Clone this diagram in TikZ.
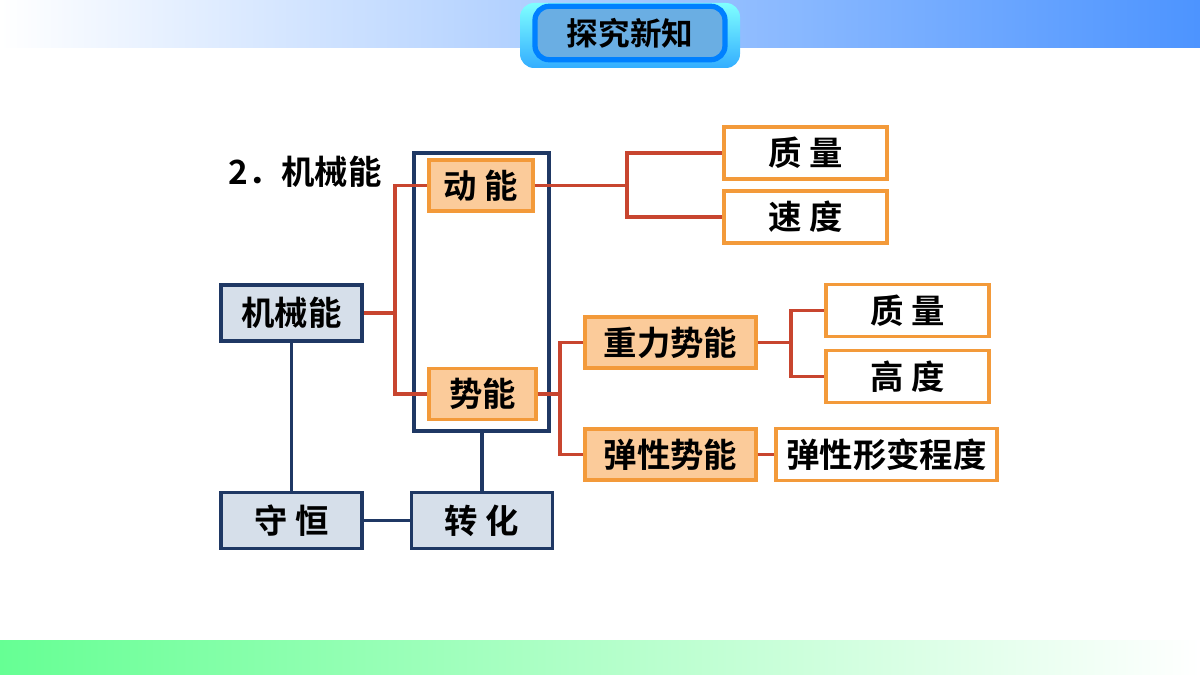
\documentclass[tikz,border=0pt]{standalone}
\usepackage{fontspec}
\setmainfont{Noto Sans CJK SC}[BoldFont={* Bold}]
\usetikzlibrary{positioning}
\definecolor{navy}{HTML}{1F3864}
\definecolor{boxblue}{HTML}{D6DFEA}
\definecolor{org}{HTML}{F39A3A}
\definecolor{orgfill}{HTML}{FBCB9A}
\definecolor{redline}{HTML}{C8452F}
\tikzset{
  blue box/.style={rectangle,draw=navy,fill=boxblue,line width=0.9pt,minimum width=14.1mm,minimum height=5.6mm,font=\fontsize{9.5}{11}\selectfont\bfseries},
  org box/.style={rectangle,draw=org,fill=orgfill,line width=0.9pt,minimum height=5.1mm,font=\fontsize{9.5}{11}\selectfont\bfseries,inner sep=1pt},
  white box/.style={rectangle,draw=org,fill=white,line width=0.9pt,minimum width=16.3mm,minimum height=5.2mm,font=\fontsize{9.5}{11}\selectfont\bfseries,inner sep=1pt},
  red link/.style={draw=redline,line width=0.9pt},
  navy link/.style={draw=navy,line width=0.9pt}
}
\begin{document}
\begin{tikzpicture}[x=0.1mm,y=-0.1mm]
\useasboundingbox (0,0) rectangle (1200,675);
% bands
\shade[left color=white,right color=blue!60!cyan!70] (0,0) rectangle (1200,48);
\shade[left color=green!70!cyan!60,right color=white] (0,640) rectangle (1200,675);
\shade[rounded corners=4pt,top color=cyan!50,bottom color=blue!40!cyan!80] (520,3) rectangle (740,68);
\node[rectangle,rounded corners=4pt,draw=blue!50!cyan,line width=1.5pt,fill=cyan!70!blue!60,minimum width=19mm,minimum height=4.8mm,font=\fontsize{9}{10}\selectfont\bfseries] (badge) at (630,33) {探究新知};
% title
\node[font=\fontsize{9.5}{11}\selectfont\bfseries] (title) at (305,172) {2．机械能};
% frame
\draw[navy link] (414,153) rectangle (549,431);
\coordinate (framebot) at (482,431);
% nodes
\node[blue box] (jxn) at (291.5,313) {机械能};
\node[blue box] (sh) at (291.5,520.5) {守\ 恒};
\node[blue box] (zh) at (482,520.5) {转\ 化};
\node[org box,minimum width=10.4mm] (dn) at (481,185.5) {动\ 能};
\node[org box,minimum width=10.7mm] (sn) at (482.5,394) {势能};
\node[white box] (zl1) at (805.5,153) {质\ 量};
\node[white box] (sd) at (805.5,217) {速\ 度};
\node[org box,minimum width=17.1mm] (zlsn) at (670.5,342.5) {重力势能};
\node[org box,minimum width=17.1mm] (txsn) at (670.5,454.5) {弹性势能};
\node[white box] (zl2) at (907.5,310.5) {质\ 量};
\node[white box] (gd) at (907.5,376.5) {高\ 度};
\node[white box,minimum width=22.1mm] (txbx) at (886.5,454.5) {弹性形变程度};
% red links
\draw[red link] (jxn.east) -- (395,313) |- (dn.west);
\draw[red link] (395,313) |- (sn.west);
\draw[red link] (dn.east) -- (627,185.5) |- (zl1.west);
\draw[red link] (627,185.5) |- (sd.west);
\draw[red link] (sn.east) -- (560,394) |- (zlsn.west);
\draw[red link] (560,394) |- (txsn.west);
\draw[red link] (zlsn.east) -- (791,342.5) |- (zl2.west);
\draw[red link] (791,342.5) |- (gd.west);
\draw[red link] (txsn.east) -- (txbx.west);
% navy links
\draw[navy link] (jxn.south) -- (sh.north);
\draw[navy link] (sh.east) -- (zh.west);
\draw[navy link] (zh.north) -- (framebot);
\end{tikzpicture}
\end{document}
